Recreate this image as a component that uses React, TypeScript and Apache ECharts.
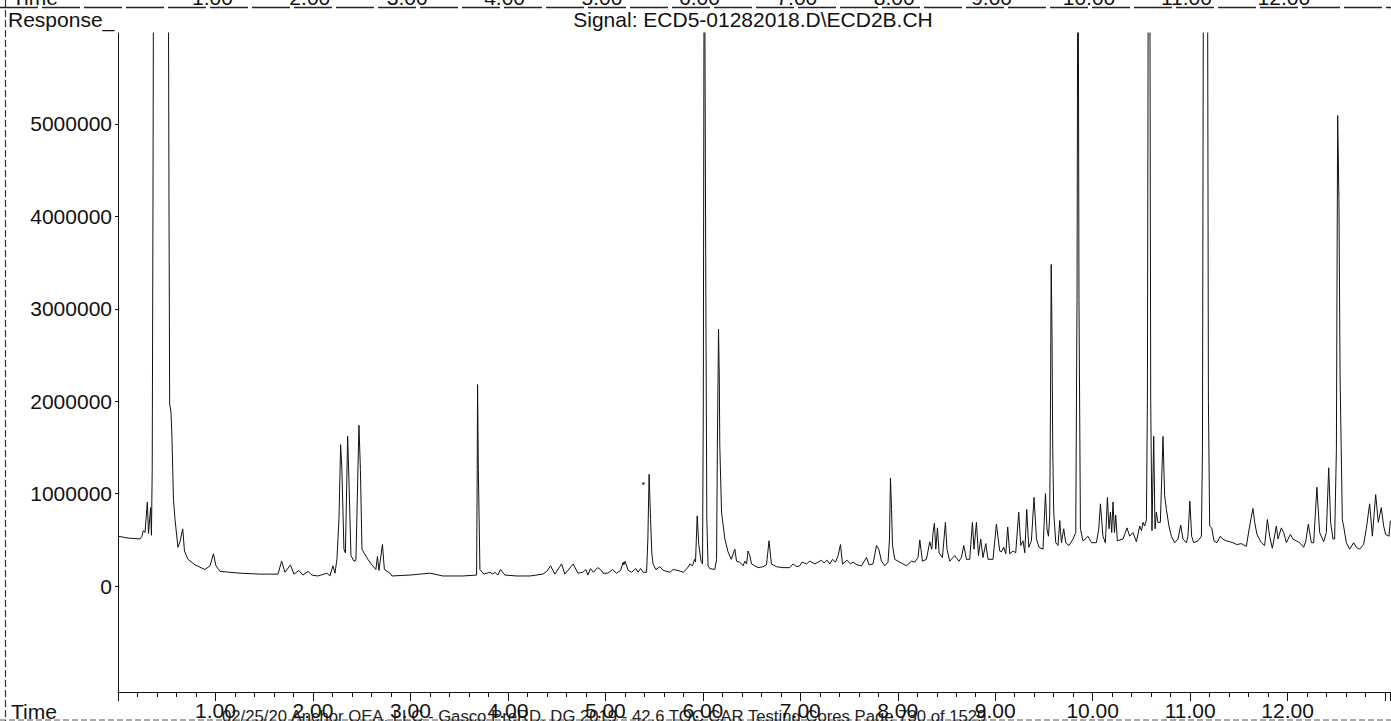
import React, { useEffect, useRef } from "react";
import * as echarts from "echarts";

// Retention time (min)
const times = [
  0.0, 0.103, 0.226, 0.246, 0.26, 0.277, 0.301, 0.313, 0.335, 0.343, 0.351, 0.359, 0.369, 0.45, 0.51, 0.516,
  0.523, 0.53, 0.544, 0.554, 0.569, 0.585, 0.615, 0.636, 0.664, 0.682, 0.718, 0.79, 0.892, 0.944, 0.979,
  1.005, 1.046, 1.251, 1.456, 1.641, 1.679, 1.713, 1.769, 1.805, 1.856, 1.897, 1.949, 1.99, 2.051, 2.144,
  2.174, 2.205, 2.226, 2.246, 2.267, 2.284, 2.297, 2.318, 2.333, 2.356, 2.369, 2.39, 2.421, 2.441, 2.472,
  2.487, 2.503, 2.523, 2.564, 2.605, 2.646, 2.662, 2.677, 2.713, 2.733, 2.79, 2.81, 2.995, 3.2, 3.333,
  3.538, 3.679, 3.685, 3.689, 3.697, 3.713, 3.754, 3.815, 3.846, 3.867, 3.897, 3.925, 3.969, 4.092, 4.226,
  4.359, 4.4, 4.438, 4.482, 4.551, 4.585, 4.67, 4.718, 4.769, 4.8, 4.821, 4.848, 4.877, 4.92, 4.951,
  4.977, 5.026, 5.074, 5.115, 5.156, 5.183, 5.19, 5.203, 5.234, 5.269, 5.313, 5.336, 5.361, 5.388, 5.423,
  5.436, 5.449, 5.464, 5.477, 5.49, 5.518, 5.559, 5.593, 5.662, 5.695, 5.747, 5.798, 5.839, 5.867, 5.894,
  5.915, 5.925, 5.942, 5.959, 5.969, 5.982, 5.997, 6.005, 6.015, 6.031, 6.041, 6.054, 6.072, 6.123, 6.141,
  6.149, 6.161, 6.169, 6.174, 6.192, 6.226, 6.259, 6.292, 6.328, 6.346, 6.379, 6.413, 6.431, 6.449, 6.464,
  6.482, 6.5, 6.533, 6.567, 6.618, 6.653, 6.679, 6.704, 6.756, 6.824, 6.892, 6.926, 6.964, 6.995, 7.018,
  7.063, 7.097, 7.149, 7.217, 7.244, 7.275, 7.303, 7.33, 7.361, 7.388, 7.412, 7.433, 7.48, 7.515, 7.541,
  7.582, 7.628, 7.679, 7.706, 7.746, 7.782, 7.805, 7.833, 7.867, 7.9, 7.915, 7.925, 7.936, 7.946, 7.969,
  8.003, 8.054, 8.089, 8.141, 8.174, 8.208, 8.226, 8.253, 8.294, 8.328, 8.349, 8.362, 8.376, 8.39, 8.407,
  8.424, 8.458, 8.489, 8.505, 8.533, 8.585, 8.628, 8.653, 8.677, 8.705, 8.738, 8.766, 8.782, 8.807, 8.828,
  8.851, 8.874, 8.903, 8.926, 8.977, 9.012, 9.046, 9.063, 9.087, 9.108, 9.128, 9.149, 9.183, 9.21, 9.241,
  9.262, 9.285, 9.303, 9.323, 9.344, 9.371, 9.398, 9.423, 9.449, 9.49, 9.515, 9.531, 9.546, 9.559, 9.567,
  9.574, 9.582, 9.59, 9.6, 9.621, 9.644, 9.662, 9.679, 9.703, 9.723, 9.757, 9.798, 9.826, 9.839, 9.849,
  9.859, 9.874, 9.9, 9.925, 9.951, 9.987, 10.038, 10.062, 10.079, 10.105, 10.13, 10.151, 10.167, 10.182, 10.195,
  10.208, 10.223, 10.236, 10.253, 10.311, 10.352, 10.379, 10.413, 10.448, 10.482, 10.5, 10.516, 10.533, 10.551, 10.561,
  10.572, 10.585, 10.595, 10.608, 10.626, 10.639, 10.653, 10.669, 10.694, 10.721, 10.738, 10.756, 10.782, 10.807, 10.841,
  10.875, 10.903, 10.926, 10.961, 10.977, 10.997, 11.015, 11.036, 11.08, 11.115, 11.126, 11.138, 11.176, 11.187, 11.2,
  11.221, 11.244, 11.275, 11.31, 11.333, 11.371, 11.439, 11.477, 11.525, 11.576, 11.61, 11.644, 11.662, 11.685, 11.73,
  11.764, 11.792, 11.815, 11.843, 11.884, 11.901, 11.935, 11.959, 11.987, 12.028, 12.054, 12.089, 12.123, 12.164, 12.185,
  12.212, 12.243, 12.267, 12.3, 12.328, 12.369, 12.397, 12.421, 12.441, 12.465, 12.482, 12.5, 12.513, 12.526, 12.538,
  12.561, 12.574, 12.602, 12.636, 12.677, 12.705, 12.738, 12.779, 12.807, 12.841, 12.869, 12.903, 12.93, 12.961, 12.985,
  13.005, 13.039, 13.054,
];

// Response (millions of counts)
const responsesM = [
  0.54, 0.52, 0.51, 0.54, 0.6, 0.58, 0.91, 0.57, 0.85, 0.55, 1.26, 4.2, 9.0, 14, 9, 7,
  4.2, 1.97, 1.88, 1.59, 0.94, 0.72, 0.42, 0.48, 0.62, 0.38, 0.29, 0.23, 0.18, 0.22, 0.35,
  0.22, 0.16, 0.14, 0.13, 0.13, 0.27, 0.15, 0.23, 0.13, 0.17, 0.12, 0.16, 0.12, 0.11, 0.14,
  0.11, 0.22, 0.14, 0.29, 0.72, 1.53, 1.26, 0.4, 0.36, 1.62, 1.16, 0.33, 0.27, 0.28, 1.74,
  1.26, 0.4, 0.36, 0.29, 0.23, 0.18, 0.32, 0.17, 0.45, 0.18, 0.14, 0.11, 0.12, 0.14, 0.11,
  0.11, 0.12, 1.16, 2.18, 1.26, 0.18, 0.13, 0.15, 0.13, 0.15, 0.12, 0.18, 0.12, 0.11, 0.11,
  0.13, 0.16, 0.22, 0.13, 0.24, 0.13, 0.24, 0.14, 0.15, 0.18, 0.12, 0.19, 0.15, 0.2, 0.18,
  0.14, 0.14, 0.18, 0.14, 0.17, 0.26, 0.23, 0.27, 0.17, 0.15, 0.19, 0.15, 0.19, 0.15, 0.15,
  0.51, 1.21, 0.72, 0.35, 0.24, 0.18, 0.21, 0.17, 0.15, 0.18, 0.17, 0.15, 0.19, 0.24, 0.22,
  0.29, 0.26, 0.76, 0.44, 0.37, 0.27, 0.24, 2.0, 8.0, 3.1, 0.72, 0.22, 0.19, 0.18, 0.29,
  1.48, 2.78, 2.24, 1.52, 0.8, 0.51, 0.37, 0.29, 0.4, 0.27, 0.26, 0.22, 0.27, 0.24, 0.38,
  0.33, 0.24, 0.22, 0.2, 0.21, 0.23, 0.49, 0.24, 0.21, 0.2, 0.2, 0.24, 0.21, 0.22, 0.26,
  0.24, 0.27, 0.24, 0.28, 0.25, 0.28, 0.24, 0.29, 0.26, 0.33, 0.45, 0.24, 0.28, 0.24, 0.26,
  0.23, 0.22, 0.31, 0.23, 0.24, 0.44, 0.4, 0.27, 0.22, 0.26, 0.51, 1.17, 0.83, 0.44, 0.29,
  0.27, 0.24, 0.22, 0.27, 0.26, 0.31, 0.5, 0.27, 0.29, 0.48, 0.4, 0.58, 0.68, 0.4, 0.63,
  0.36, 0.31, 0.69, 0.4, 0.27, 0.33, 0.27, 0.31, 0.44, 0.29, 0.29, 0.69, 0.4, 0.69, 0.33,
  0.51, 0.31, 0.46, 0.29, 0.29, 0.67, 0.38, 0.37, 0.42, 0.35, 0.64, 0.35, 0.38, 0.36, 0.8,
  0.44, 0.49, 0.36, 0.83, 0.42, 0.49, 0.96, 0.51, 0.42, 0.4, 1.0, 0.62, 0.54, 0.76, 2.0,
  3.48, 2.78, 1.48, 0.8, 0.47, 0.44, 0.71, 0.47, 0.62, 0.47, 0.44, 0.51, 0.58, 3.1, 8.0,
  3.1, 0.62, 0.49, 0.51, 0.54, 0.47, 0.47, 0.62, 0.89, 0.54, 0.47, 0.96, 0.62, 0.8, 0.58,
  0.91, 0.58, 0.77, 0.49, 0.51, 0.63, 0.54, 0.58, 0.48, 0.65, 0.6, 0.69, 0.65, 0.72, 2.0,
  8.0, 7.5, 2.0, 0.6, 1.62, 0.62, 0.8, 0.69, 0.69, 1.62, 0.98, 0.83, 0.65, 0.54, 0.47,
  0.51, 0.66, 0.51, 0.47, 0.54, 0.92, 0.54, 0.47, 0.49, 0.54, 1.48, 8.0, 8.0, 2.0, 0.65,
  0.63, 0.49, 0.47, 0.54, 0.51, 0.49, 0.47, 0.45, 0.46, 0.43, 0.65, 0.84, 0.69, 0.56, 0.47,
  0.44, 0.72, 0.54, 0.41, 0.65, 0.51, 0.63, 0.58, 0.47, 0.56, 0.51, 0.49, 0.47, 0.42, 0.48,
  0.67, 0.47, 0.47, 1.07, 0.58, 0.48, 0.58, 1.28, 0.69, 0.51, 0.51, 1.48, 5.09, 4.18, 2.24,
  0.72, 0.65, 0.47, 0.4, 0.47, 0.42, 0.4, 0.45, 0.62, 0.89, 0.54, 0.99, 0.69, 0.85, 0.65,
  0.56, 0.54, 0.71,
];

// a stray scan speck [time, response in millions]
const specks = [[5.39, 1.11]];

const yTickValues = [0, 1000000, 2000000, 3000000, 4000000, 5000000];
const topPageLabels = ["1.00", "2.00", "3.00", "4.00", "5.00", "6.00", "7.00", "8.00", "9.00", "10.00", "11.00", "12.00"];
const signalTitle = "Signal: ECD5-01282018.D\\ECD2B.CH";
const footerText = "02/25/20 Anchor QEA, LLC - Gasco PreRD, DG 2019 - 42.6 TOC CAR Testing Cores Page 730 of 1529";

const FONT = '"Liberation Sans", Arial, Helvetica, sans-serif';
const INK = "#111";

export default function App() {
  const ref = useRef<HTMLDivElement>(null);

  useEffect(() => {
    if (!ref.current) return;
    const chart = echarts.init(ref.current, undefined, { renderer: "svg" });

    const lineData = times.map((t, i) => [t, responsesM[i] * 1e6]);
    const speckData = specks.map((p) => [p[0], p[1] * 1e6]);

    const txt = (text: string, x: number, y: number, size: number, align = "left", vAlign = "top", fill = INK) => ({
      type: "text",
      x,
      y,
      silent: true,
      style: {
        text,
        fill,
        font: `${size}px ${FONT}`,
        fontSize: size,
        fontFamily: FONT,
        align,
        verticalAlign: vAlign,
        textAlign: align,
        textVerticalAlign: vAlign,
      },
    });

    const graphics: any[] = [
      // clipped labels of the previous plot at top
      txt("Time", 12, 8, 21, "left", "bottom"),
      ...topPageLabels.map((l, i) => txt(l, 115 + (i + 1) * 97.4, 8, 21, "center", "bottom")),
      // page borders from the scan
      { type: "line", silent: true, shape: { x1: 0, y1: 7.5, x2: 1391, y2: 7.5 }, style: { stroke: "#222", lineWidth: 1.5, lineDash: [38, 4] } },
      { type: "line", silent: true, shape: { x1: 5.5, y1: 0, x2: 5.5, y2: 721 }, style: { stroke: "#333", lineWidth: 1.2, lineDash: [7, 3] } },
      { type: "line", silent: true, shape: { x1: 0, y1: 720, x2: 1391, y2: 720 }, style: { stroke: "#555", lineWidth: 1, lineDash: [6, 3] } },
      txt("Response_", 8, 9, 21),
      txt(signalTitle, 753, 9, 21, "center"),
      txt("Time", 11, 701, 21),
      txt(footerText, 222, 708, 16.7, "left", "top", "#222"),
    ];

    chart.setOption({
      animation: false,
      backgroundColor: "#fff",
      grid: { left: 118, right: 1, top: 33, bottom: 28, containLabel: false },
      xAxis: {
        type: "value",
        min: 0,
        max: 13.05,
        interval: 1,
        axisLine: { show: true, onZero: false, lineStyle: { color: INK, width: 1 } },
        axisTick: { show: true, inside: false, length: 9, lineStyle: { color: INK, width: 1 } },
        minorTick: { show: true, splitNumber: 5, length: 5, lineStyle: { color: INK, width: 1 } },
        splitLine: { show: false },
        minorSplitLine: { show: false },
        axisLabel: {
          show: true,
          margin: 8,
          color: INK,
          fontSize: 21,
          fontFamily: FONT,
          showMinLabel: false,
          showMaxLabel: false,
          formatter: (v: number) => (v > 0 && v < 12.5 ? v.toFixed(2) : ""),
        },
      },
      yAxis: {
        type: "value",
        min: -1145000,
        max: 5983000,
        axisLine: { show: true, onZero: false, lineStyle: { color: INK, width: 1 } },
        axisTick: { show: true, length: 3, customValues: yTickValues, lineStyle: { color: INK } },
        splitLine: { show: false },
        axisLabel: {
          show: true,
          margin: 6,
          color: INK,
          fontSize: 21,
          fontFamily: FONT,
          customValues: yTickValues,
          formatter: (v: number) => String(Math.round(v)),
        },
      },
      series: [
        {
          type: "line",
          data: lineData,
          symbol: "none",
          showSymbol: false,
          clip: true,
          silent: true,
          lineStyle: { color: INK, width: 1 },
        },
        {
          type: "scatter",
          data: speckData,
          symbol: "circle",
          symbolSize: 3,
          silent: true,
          itemStyle: { color: "#333" },
        },
      ],
      graphic: graphics,
    });

    return () => chart.dispose();
  }, []);

  return (
    <div
      ref={ref}
      style={{ position: "fixed", left: 0, top: 0, width: 1391, height: 721, background: "#fff" }}
    />
  );
}
